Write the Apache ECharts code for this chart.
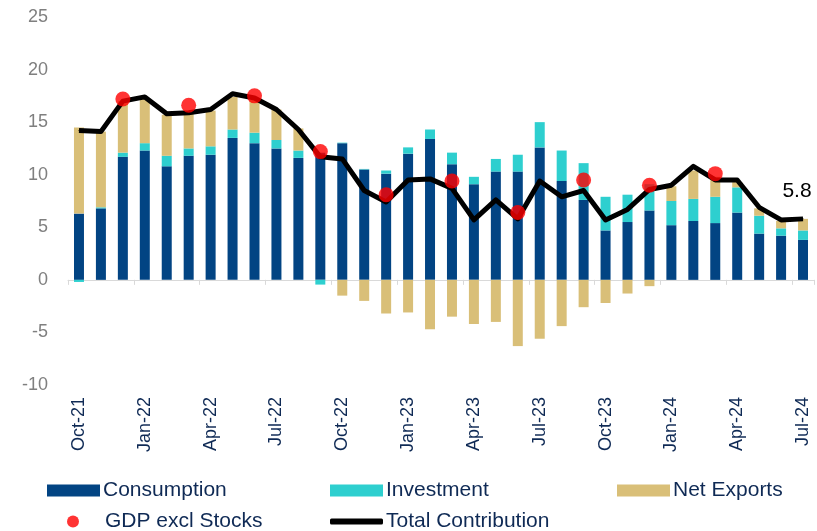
<!DOCTYPE html>
<html>
<head>
<meta charset="utf-8">
<script src="https://cdn.jsdelivr.net/npm/echarts@6/dist/echarts.min.js"></script>
<style>
* { margin: 0; padding: 0; }
body { background: #fff; }
</style>
</head>
<body>
<div id="main" style="width: 817px;height: 531px;background:#fff"></div>
<script>
// months Oct-21 .. Jul-24
var months = ['Oct-21', 'Nov-21', 'Dec-21', 'Jan-22', 'Feb-22', 'Mar-22', 'Apr-22', 'May-22', 'Jun-22',
  'Jul-22', 'Aug-22', 'Sep-22', 'Oct-22', 'Nov-22', 'Dec-22', 'Jan-23', 'Feb-23', 'Mar-23', 'Apr-23',
  'May-23', 'Jun-23', 'Jul-23', 'Aug-23', 'Sep-23', 'Oct-23', 'Nov-23', 'Dec-23', 'Jan-24', 'Feb-24',
  'Mar-24', 'Apr-24', 'May-24', 'Jun-24', 'Jul-24']

var consumption = [6.3, 6.8, 11.7, 12.3, 10.8, 11.8, 11.9, 13.5, 13.0, 12.5, 11.6, 12.1, 13.0, 10.5, 10.1, 12.0, 13.4,
  11.0, 9.1, 10.3, 10.3, 12.6, 9.4, 7.6, 4.7, 5.5, 6.6, 5.2, 5.6, 5.4, 6.4, 4.4, 4.2, 3.8]
var investment = [-0.2, 0.1, 0.4, 0.7, 1.0, 0.7, 0.8, 0.8, 1.0, 0.8, 0.7, -0.45, 0.05, 0.05, 0.3, 0.6, 0.9,
  1.1, 0.7, 1.2, 1.6, 2.4, 2.9, 3.5, 3.2, 2.6, 2.5, 2.3, 2.1, 2.5, 2.4, 1.7, 0.7, 0.9]
var netExports = [8.2, 7.2, 4.9, 4.3, 3.9, 3.3, 3.4, 3.1, 3.1, 2.9, 2.1, 0, -1.5, -2.0, -3.2, -3.1, -4.7,
  -3.5, -4.2, -4.0, -6.3, -5.6, -4.4, -2.6, -2.2, -1.3, -0.6, 1.4, 2.7, 1.9, 0.5, 0.7, 0.7, 1.1]
var totalContribution = [14.2, 14.1, 17.0, 17.4, 15.8, 15.9, 16.2, 17.7, 17.3, 16.2, 14.3, 11.7, 11.5, 8.5, 7.4,
  9.5, 9.6, 8.7, 5.7, 7.6, 5.8, 9.4, 7.9, 8.5, 5.7, 6.7, 8.6, 9.0, 10.8, 9.5, 9.5, 6.9, 5.7, 5.8]
// quarterly only
var gdpExclStocks = [null, null, 17.2, null, null, 16.6, null, null, 17.5, null, null, 12.2, null, null, 8.1,
  null, null, 9.4, null, null, 6.4, null, null, 9.5, null, null, 9.0, null, null, 10.1, null, null, null, null]

var yTicks = { min: -10, max: 25, interval: 5 }

var navy = '#0f2a55'
var font = 'Liberation Sans, Arial'
var chart = echarts.init(document.getElementById('main'))

// only the last point gets its value written
var lineData = totalContribution.map(function (v, i) {
  if (i === totalContribution.length - 1) {
    return {
      value: v,
      label: { show: true, position: 'top', distance: 17, offset: [-6, 0], color: '#000', fontSize: 21,
        fontFamily: font }
    }
  }
  return v
})

function legendItem(name, left, top, w, h, icon, color, textPad) {
  return {
    data: [{ name: name, icon: icon, itemStyle: { color: color } }],
    left: left, top: top, padding: 0,
    itemWidth: w, itemHeight: h, itemGap: 0,
    textStyle: { color: navy, fontSize: 21, fontFamily: font, padding: [0, 0, 0, textPad || -2] }
  }
}

chart.setOption({
  animation: false,
  grid: { left: 68, right: 3, top: 17, bottom: 146, containLabel: false },
  legend: [
    legendItem('Consumption', 47, 480, 53, 12, 'rect', '#024483'),
    legendItem('Investment', 330, 480, 53, 12, 'rect', '#2ecfcf'),
    legendItem('Net Exports', 617, 480, 53, 12, 'rect', '#d9bf78'),
    legendItem('GDP excl Stocks', 67, 511, 12, 12, 'circle', '#ff0000', 21),
    legendItem('Total Contribution', 330, 511, 53, 6, 'roundRect', '#000')
  ],
  xAxis: [
    {
      type: 'category',
      data: months,
      boundaryGap: true,
      axisLine: { onZero: true, lineStyle: { color: '#d9d9d9', width: 1 } },
      axisTick: { show: true, interval: 2, length: 5, lineStyle: { color: '#d9d9d9' } },
      axisLabel: { show: false },
      splitLine: { show: false }
    },
    {
      type: 'category',
      data: months,
      position: 'bottom',
      boundaryGap: true,
      axisLine: { show: false, onZero: false },
      axisTick: { show: false },
      axisLabel: { interval: 2, rotate: 90, margin: 12, color: navy, fontSize: 18, fontFamily: font },
      splitLine: { show: false }
    }
  ],
  yAxis: {
    type: 'value',
    min: yTicks.min,
    max: yTicks.max,
    interval: yTicks.interval,
    axisLine: { show: false },
    axisTick: { show: false },
    splitLine: { show: false },
    axisLabel: { color: '#7f7f7f', fontSize: 18, margin: 20, fontFamily: font }
  },
  series: [
    {
      name: 'Consumption', type: 'bar', stack: 'gdp', barWidth: 10, z: 2,
      itemStyle: { color: '#024483' },
      data: consumption
    },
    {
      name: 'Investment', type: 'bar', stack: 'gdp', barWidth: 10, z: 2,
      itemStyle: { color: '#2ecfcf' },
      data: investment
    },
    {
      name: 'Net Exports', type: 'bar', stack: 'gdp', barWidth: 10, z: 2,
      itemStyle: { color: '#d9bf78' },
      data: netExports
    },
    {
      name: 'Total Contribution', type: 'line', z: 3,
      symbol: 'circle', symbolSize: 1, showSymbol: true,
      color: '#000',
      itemStyle: { color: '#000' },
      lineStyle: { color: '#000', width: 5, join: 'round' },
      data: lineData
    },
    {
      name: 'GDP excl Stocks', type: 'scatter', z: 4,
      symbol: 'circle', symbolSize: 15,
      itemStyle: { color: '#ff0000' },
      data: gdpExclStocks.map(function (v) { return v === null ? '-' : v })
    }
  ]
})
</script>
</body>
</html>
